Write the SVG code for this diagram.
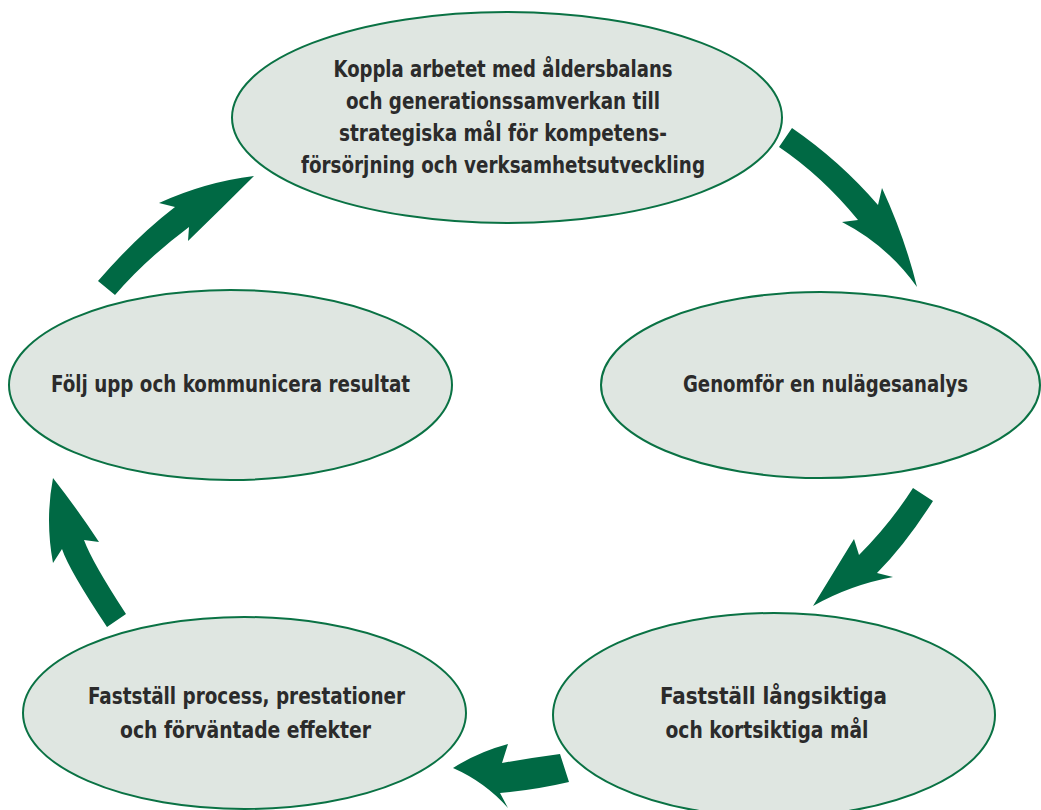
<svg xmlns="http://www.w3.org/2000/svg" width="1041" height="810" viewBox="0 0 1041 810">
  <style>
    .node ellipse { fill: #dfe6e1; stroke: #0a7244; stroke-width: 2; }
    .node text { font-family: "Liberation Sans Narrow", "DejaVu Sans Condensed", "DejaVu Sans", sans-serif; font-stretch: condensed; font-weight: bold; font-size: 22.5px; fill: #2b2b2b; text-anchor: middle; }
    .arrow { fill: #006944; stroke: none; }
  </style>
  <rect width="1041" height="810" fill="#ffffff"/>

  <!-- curved block arrows between the steps -->
  <g id="connectors">
    <path class="arrow" d="M792,128 Q840,161 878,205 L882,188 Q905,238 917,287 Q887,245 842,222 L858,220 Q822,176 779,147 Z"/>
    <path class="arrow" d="M933,501 Q905,545 877,573 L893,577 Q850,585 813,606 Q835,570 854,539 L859,555 Q890,524 913,488 Z"/>
    <path class="arrow" d="M560,754 Q530,758 502,763 L508,744 Q478,752 453,768 Q485,782 508,808 L500,793 Q535,790 569,782 Z"/>
    <path class="arrow" d="M107,627 Q69,570 62,549 L53,563 Q45,520 53,478 Q78,510 99,542 L84,540 Q92,562 126,614 Z"/>
    <path class="arrow" d="M98,281 Q137,236 175,207 L159,203 Q205,182 254,176 Q222,208 188,241 L189,227 Q145,260 115,295 Z"/>
  </g>

  <g id="node-koppla" class="node">
    <ellipse cx="507" cy="117.5" rx="275" ry="105.5"/>
    <text x="503" y="77" textLength="339" lengthAdjust="spacingAndGlyphs">Koppla arbetet med åldersbalans</text>
    <text x="503" y="109" textLength="314" lengthAdjust="spacingAndGlyphs">och generationssamverkan till</text>
    <text x="503" y="141" textLength="328" lengthAdjust="spacingAndGlyphs">strategiska mål för kompetens-</text>
    <text x="503" y="173" textLength="404" lengthAdjust="spacingAndGlyphs">försörjning och verksamhetsutveckling</text>
  </g>

  <g id="node-nulage" class="node">
    <ellipse cx="820.5" cy="385" rx="219.5" ry="93"/>
    <text x="825.5" y="392" textLength="285" lengthAdjust="spacingAndGlyphs">Genomför en nulägesanalys</text>
  </g>

  <g id="node-mal" class="node">
    <ellipse cx="774" cy="715" rx="221" ry="102"/>
    <text x="773.5" y="704" textLength="227" lengthAdjust="spacingAndGlyphs">Fastställ långsiktiga</text>
    <text x="767" y="738" textLength="203" lengthAdjust="spacingAndGlyphs">och kortsiktiga mål</text>
  </g>

  <g id="node-process" class="node">
    <ellipse cx="244.5" cy="713" rx="221.5" ry="96"/>
    <text x="246.5" y="704" textLength="317" lengthAdjust="spacingAndGlyphs">Fastställ process, prestationer</text>
    <text x="245.5" y="738" textLength="251" lengthAdjust="spacingAndGlyphs">och förväntade effekter</text>
  </g>

  <g id="node-folj" class="node">
    <ellipse cx="230.5" cy="385" rx="221.5" ry="95"/>
    <text x="230.5" y="392" textLength="359" lengthAdjust="spacingAndGlyphs">Följ upp och kommunicera resultat</text>
  </g>
</svg>
